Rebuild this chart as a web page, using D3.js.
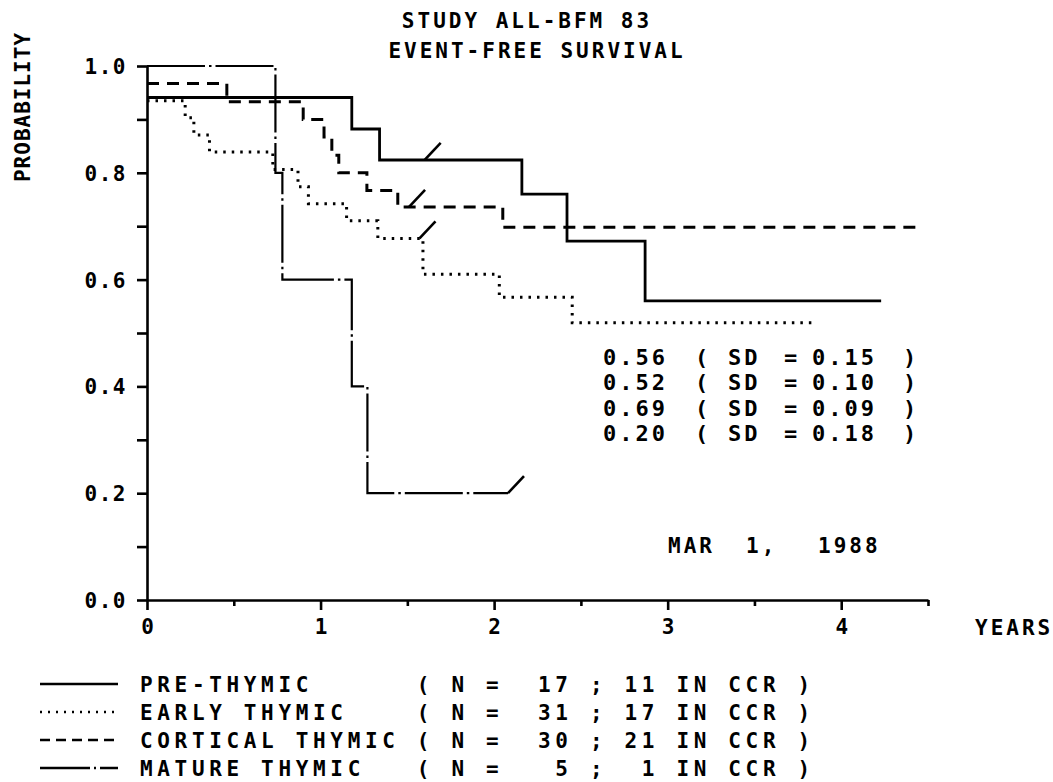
<!DOCTYPE html>
<html>
<head>
<meta charset="utf-8">
<script src="https://d3js.org/d3.v7.min.js"></script>
<style>
body { margin: 0; background: #fff; }
text { font-family: "DejaVu Sans Mono", monospace; font-weight: bold; fill: #000; white-space: pre; }
</style>
</head>
<body>
<script>
// event-free survival step curves (years, probability)
var preT = [0, 1.18, 1.34, 2.16, 2.42, 2.87, 4.23];
var preS = [0.941, 0.882, 0.824, 0.760, 0.672, 0.560, 0.560];

var earlyT = [0, 0.22, 0.27, 0.36, 0.725, 0.87, 0.93, 1.15, 1.33, 1.59, 2.03, 2.45, 3.86];
var earlyS = [0.935, 0.903, 0.871, 0.839, 0.806, 0.774, 0.742, 0.710, 0.677, 0.610, 0.567, 0.519, 0.519];

var cortT = [0, 0.46, 0.90, 1.02, 1.065, 1.105, 1.267, 1.445, 2.05, 4.46];
var cortS = [0.967, 0.933, 0.900, 0.867, 0.833, 0.800, 0.767, 0.736, 0.698, 0.698];

var matT = [0, 0.74, 0.78, 1.18, 1.27, 2.08];
var matS = [1.0, 0.8, 0.6, 0.4, 0.2, 0.2];

// censoring marks (slashes)
var censT = [1.60, 1.57, 1.51, 2.08];
var censS = [0.824, 0.677, 0.736, 0.2];

var groups = ["PRE-THYMIC", "EARLY THYMIC", "CORTICAL THYMIC", "MATURE THYMIC"];
var nPat = [17, 31, 30, 5];
var nCCR = [11, 17, 21, 1];
var estim = ["0.56", "0.52", "0.69", "0.20"];
var sd = ["0.15", "0.10", "0.09", "0.18"];

var xTickVals = [0, 0.5, 1, 1.5, 2, 2.5, 3, 3.5, 4, 4.5];
var xLabels = ["0", "1", "2", "3", "4"];
var yTickVals = [0, 0.1, 0.2, 0.3, 0.4, 0.5, 0.6, 0.7, 0.8, 0.9, 1.0];
var yLabels = ["0.0", "0.2", "0.4", "0.6", "0.8", "1.0"];

var W = 1053, H = 782;
var svg = d3.select("body").append("svg")
  .attr("width", W).attr("height", H);
svg.append("rect").attr("width", W).attr("height", H).attr("fill", "#fff");

var x = d3.scaleLinear().domain([0, 4.5]).range([147, 928]);
var y = d3.scaleLinear().domain([0, 1]).range([600, 66]);

// axes
var yAxis = svg.append("g")
  .attr("transform", "translate(" + x(0) + ",0)")
  .call(d3.axisLeft(y).tickValues(yTickVals).tickSize(10).tickSizeOuter(0)
    .tickFormat(function (d) {
      var s = d.toFixed(1);
      return yLabels.indexOf(s) >= 0 ? s : "";
    }));

var xAxis = svg.append("g")
  .attr("transform", "translate(0," + y(0) + ")")
  .call(d3.axisBottom(x).tickValues(xTickVals).tickSize(10).tickSizeOuter(0)
    .tickFormat(function (d) {
      return xLabels.indexOf(String(d)) >= 0 ? String(d) : "";
    }));

svg.selectAll(".domain, .tick line")
  .attr("stroke", "#000").attr("stroke-width", 2.6);
xAxis.selectAll(".tick line")
  .attr("y2", function (d) { return d % 1 === 0 ? 10 : 6; });

yAxis.selectAll(".tick text")
  .attr("x", -20).attr("dy", "0.36em")
  .attr("font-size", 21).attr("letter-spacing", 1.5)
  .attr("font-family", "DejaVu Sans Mono");
xAxis.selectAll(".tick text")
  .attr("y", 19).attr("dy", "0.73em")
  .attr("font-size", 21)
  .attr("font-family", "DejaVu Sans Mono");

// titles
svg.append("text").attr("x", 527).attr("y", 28).attr("text-anchor", "middle")
  .attr("font-size", 21).attr("letter-spacing", 3).text("STUDY ALL-BFM 83");
svg.append("text").attr("x", 537).attr("y", 58).attr("text-anchor", "middle")
  .attr("font-size", 21).attr("letter-spacing", 3).text("EVENT-FREE SURVIVAL");

svg.append("text")
  .attr("transform", "translate(30,107) rotate(-90)")
  .attr("text-anchor", "middle").attr("font-size", 21).attr("letter-spacing", 1)
  .text("PROBABILITY");

svg.append("text").attr("x", 975).attr("y", 635)
  .attr("font-size", 21).attr("letter-spacing", 3).text("YEARS");

// curves
var line = d3.line()
  .x(function (d) { return x(d[0]); })
  .y(function (d) { return y(d[1]); })
  .curve(d3.curveStepAfter);

var styles = [
  { dash: null, w: 2.8 },
  { dash: "2.5,6", w: 3 },
  { dash: "12,8", w: 3 },
  { dash: "58,4,2.5,4", w: 2.2 }
];
var series = [[preT, preS], [earlyT, earlyS], [cortT, cortS], [matT, matS]];

series.forEach(function (s, i) {
  var pts = s[0].map(function (t, j) { return [t, s[1][j]]; });
  svg.append("path")
    .attr("d", line(pts))
    .attr("fill", "none")
    .attr("stroke", "#000")
    .attr("stroke-width", styles[i].w)
    .attr("stroke-dasharray", styles[i].dash);
});

censT.forEach(function (t, i) {
  svg.append("line")
    .attr("x1", x(t)).attr("y1", y(censS[i]))
    .attr("x2", x(t) + 16).attr("y2", y(censS[i]) - 17)
    .attr("stroke", "#000").attr("stroke-width", 2.6);
});

// estimates with SD
var sdRows = [357, 382, 408, 433];
estim.forEach(function (e, i) {
  var g = svg.append("g").attr("font-size", 22).attr("letter-spacing", 3);
  var yy = sdRows[i] + 8;
  g.append("text").attr("x", 603).attr("y", yy).text(e);
  g.append("text").attr("x", 695).attr("y", yy).text("(");
  g.append("text").attr("x", 728).attr("y", yy).text("SD");
  g.append("text").attr("x", 784).attr("y", yy).text("=");
  g.append("text").attr("x", 812).attr("y", yy).text(sd[i]);
  g.append("text").attr("x", 903).attr("y", yy).text(")");
});

var dateG = svg.append("g").attr("font-size", 21).attr("letter-spacing", 3);
dateG.append("text").attr("x", 668).attr("y", 553).text("MAR");
dateG.append("text").attr("x", 746).attr("y", 553).text("1,");
dateG.append("text").attr("x", 818).attr("y", 553).text("1988");

// legend: fixed-width rows like the plotter output
function pad(s, n) { s = String(s); while (s.length < n) s += " "; return s; }
function lpad(s, n) { s = String(s); while (s.length < n) s = " " + s; return s; }

var legY = [684, 712, 740, 768];
var legDash = [null, "2,6", "10,6", "50,4,2,4"];
groups.forEach(function (g, i) {
  var yy = legY[i];
  svg.append("line").attr("x1", 40).attr("x2", 118).attr("y1", yy).attr("y2", yy)
    .attr("stroke", "#000").attr("stroke-width", 2.4)
    .attr("stroke-dasharray", legDash[i]);
  var row = pad(g, 16) + "( N = " + lpad(nPat[i], 3) + " ; " + lpad(nCCR[i], 2) + " IN CCR )";
  svg.append("text").attr("x", 140).attr("y", yy + 7.6)
    .attr("font-size", 21).attr("letter-spacing", 4.66)
    .text(row);
});
</script>
</body>
</html>
